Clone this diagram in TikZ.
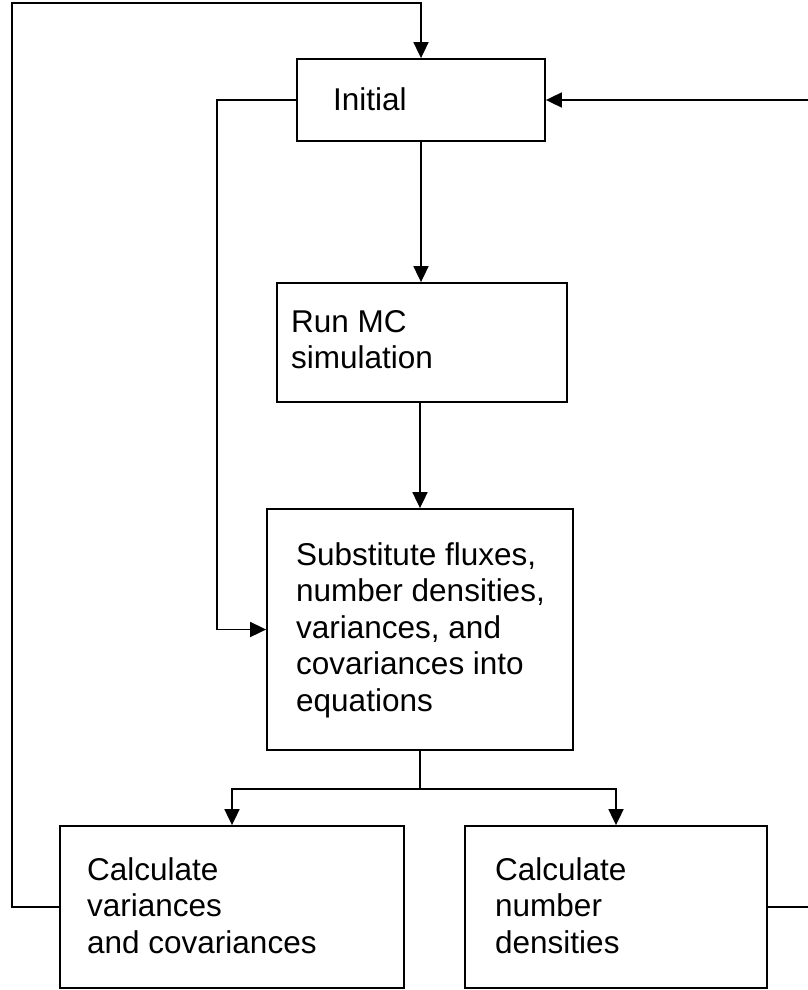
\documentclass[tikz,border=0pt]{standalone}
\usepackage{fontspec}
\setmainfont{Liberation Sans}
\usetikzlibrary{arrows.meta}
\begin{document}
\begin{tikzpicture}[x=1pt,y=-1pt,
  box/.style={draw, line width=1.8pt, rectangle, inner sep=0pt},
  lbl/.style={anchor=north west, inner sep=0pt, align=left,
              font=\fontsize{31.5}{36.5}\selectfont},
  ln/.style={line width=1.8pt},
  arr/.style={line width=1.8pt, -{Triangle[width=15pt,length=16pt]}}]
\useasboundingbox (0,0) rectangle (807,990);

% boxes
\node[box, minimum width=248pt, minimum height=82pt]  (init) at (421,100)   {};
\node[box, minimum width=290pt, minimum height=119pt] (run)  at (422,342.5) {};
\node[box, minimum width=306pt, minimum height=241pt] (sub)  at (420,629.5) {};
\node[box, minimum width=344pt, minimum height=162pt] (cv)   at (232,907)   {};
\node[box, minimum width=302pt, minimum height=162pt] (nd)   at (616,907)   {};

% box texts
\node[lbl] (initT) at (333,84.4)  {\strut Initial};
\node[lbl] (runT)  at (291,306.4) {\strut Run MC\\simulation};
\node[lbl] (subT)  at (296,539.4) {\strut Substitute fluxes,\\number densities,\\variances, and\\covariances into\\equations};
\node[lbl] (cvT)   at (87,854.4)  {\strut Calculate\\variances\\and covariances};
\node[lbl] (ndT)   at (495,854.4) {\strut Calculate\\number\\densities};

% loop turning points
\coordinate (tl) at (12,3);
\coordinate (tr) at (809,100);

% main flow
\draw[arr] (init.south) -- (init.south |- run.north);
\draw[arr] (sub.north |- run.south) -- (sub.north);
\draw[arr] (init.west) -- ++(-79,0) |- (sub.west);
\draw[ln] (sub.south) -- ++(0,38) coordinate (split);
\draw[arr] (split) -| (cv.north);
\draw[arr] (split) -| (nd.north);

% feedback loops
\draw[arr] (cv.west) -| (tl) -| (init.north);
\draw[arr] (nd.east) -| (tr) -- (init.east);
\end{tikzpicture}
\end{document}
